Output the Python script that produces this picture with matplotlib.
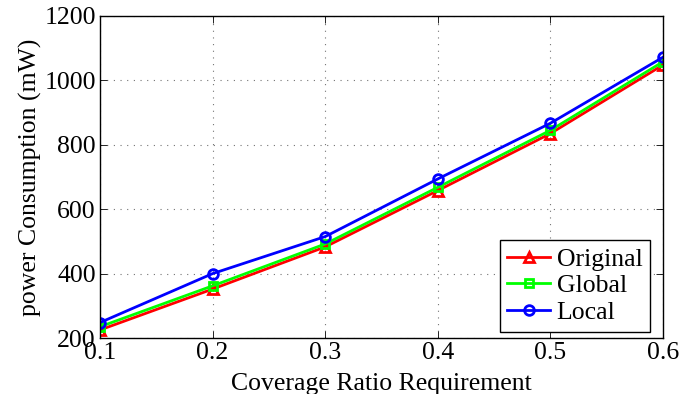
import numpy as np
import matplotlib.pyplot as plt

plt.rcParams['font.family'] = ['Liberation Serif', 'DejaVu Serif']

coverage = [0.1, 0.2, 0.3, 0.4, 0.5, 0.6]
original = [225, 352, 483, 658, 835, 1048]
global_ = [235, 362, 492, 668, 845, 1058]
local = [248, 400, 515, 694, 867, 1072]

fig = plt.figure(figsize=(6.91, 3.94), dpi=100)
ax = fig.add_axes([0.1447, 0.1421, 0.8148, 0.8173])

ax.plot(coverage, original, color='#ff0000', lw=2, marker='^', ms=7,
        mfc='none', mew=2, label='Original')
ax.plot(coverage, global_, color='#00ff00', lw=2, marker='s', ms=6,
        mfc='none', mew=2, label='Global')
ax.plot(coverage, local, color='#0000ff', lw=2, marker='o', ms=7,
        mfc='none', mew=2, label='Local')

ax.set_xlim(0.1, 0.6)
ax.set_ylim(200, 1200)
ax.set_xticks(coverage)
ax.set_xticklabels(['0.1', '0.2', '0.3', '0.4', '0.5', '0.6'])
ax.set_yticks([200, 400, 600, 800, 1000, 1200])
ax.grid(True, linestyle=(0, (1, 5)), color='0.45', lw=0.8)
ax.tick_params(direction='in', top=True, right=True, labelsize=18.5,
               length=5, width=0.6, pad=3)
for s in ax.spines.values():
    s.set_linewidth(1.0)

ax.set_xlabel('Coverage Ratio Requirement', fontsize=18.5, labelpad=6)
ax.set_ylabel('power Consumption (mW)', fontsize=18.5, labelpad=2)

leg = ax.legend(loc='lower right', bbox_to_anchor=(0.977, 0.019),
                fontsize=18.5, fancybox=False,
                edgecolor='black', framealpha=1, borderpad=0.3,
                labelspacing=0.15, handlelength=1.67, handletextpad=0.25,
                borderaxespad=0)
leg.get_frame().set_linewidth(1.0)

fig.savefig('out.png', dpi=100)
